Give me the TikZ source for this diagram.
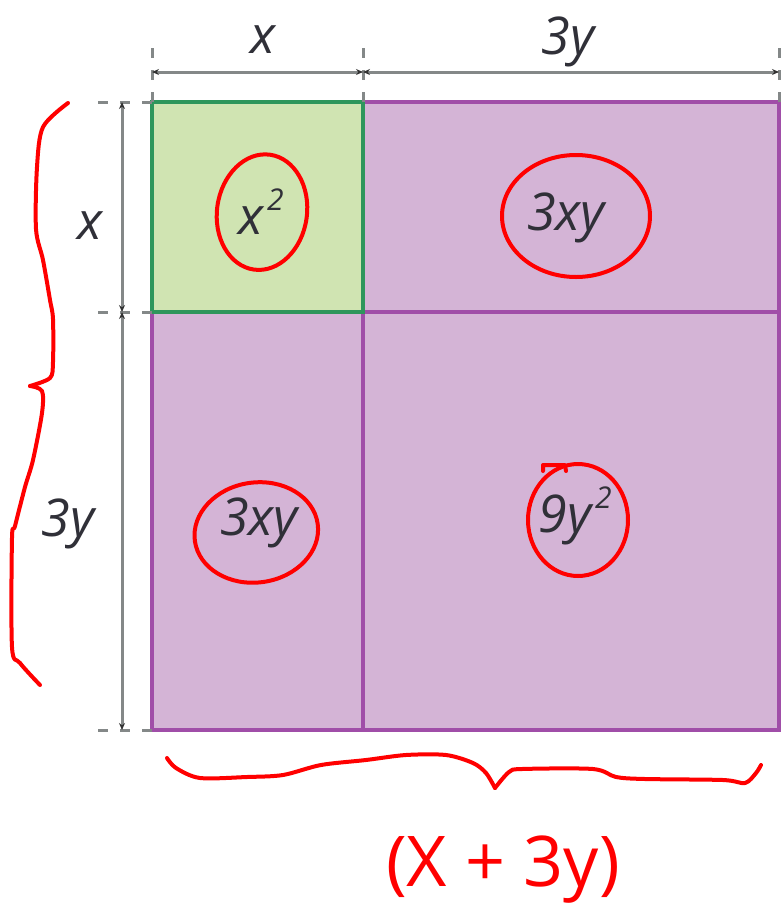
\documentclass[tikz,border=0pt]{standalone}
\usepackage{fontspec}
\setmainfont{Open Sans}
\usetikzlibrary{arrows.meta, positioning, calc}
\definecolor{cellgreen}{RGB}{208,228,178}
\definecolor{edgegreen}{RGB}{46,150,92}
\definecolor{cellpurple}{RGB}{212,180,214}
\definecolor{edgepurple}{RGB}{160,78,168}
\definecolor{dimgray}{RGB}{132,136,136}
\definecolor{inkred}{RGB}{255,0,0}
\definecolor{termgray}{RGB}{48,48,56}
\newcommand{\sqmark}{\kern4pt\raisebox{24pt}{\fontsize{30}{32}\selectfont 2}}
\tikzset{
  term/.style={
    font=\fontsize{52}{56}\selectfont\itshape,
    text=termgray,
    inner sep=0pt
  },
  handtext/.style={
    font=\fontsize{70}{74}\selectfont,
    text=inkred,
    inner sep=0pt
  },
  greencell/.style={
    fill=cellgreen,
    draw=edgegreen,
    line width=3.5pt
  },
  purplecell/.style={
    fill=cellpurple,
    draw=edgepurple,
    line width=3.5pt
  },
  dimline/.style={
    draw=dimgray,
    line width=3pt,
    {Stealth[length=7pt,width=6pt,black!80]}-{Stealth[length=7pt,width=6pt,black!80]}
  },
  extline/.style={
    draw=dimgray,
    line width=3pt,
    dash pattern=on 10pt off 12pt
  },
  ink/.style={
    draw=inkred,
    line width=4pt,
    line cap=round,
    line join=round
  }
}

\begin{document}
\begin{tikzpicture}[x=1pt, y=-1pt]
  \useasboundingbox (0,0) rectangle (781,919);

  % corners of the square
  \coordinate (tl) at (152,102);
  \coordinate (tm) at (363,102);
  \coordinate (tr) at (779,102);
  \coordinate (ml) at (152,312);
  \coordinate (mm) at (363,312);
  \coordinate (mr) at (779,312);
  \coordinate (bl) at (152,730);
  \coordinate (bm) at (363,730);
  \coordinate (br) at (779,730);

  \draw[purplecell] (tm) rectangle (mr);
  \draw[purplecell] (ml) rectangle (bm);
  \draw[purplecell] (mm) rectangle (br);
  \draw[greencell] (tl) rectangle (mm);

  % dimension lines
  \foreach \c in {tl,tm,tr}
    \draw[extline] ($(\c)+(0,-54)$) -- (\c);
  \foreach \c in {tl,ml,bl}
    \draw[extline] ($(\c)+(-54,0)$) -- (\c);
  \coordinate (dtl) at (152,72);
  \coordinate (dtm) at (363,72);
  \coordinate (dtr) at (779,72);
  \coordinate (dlt) at (122,102);
  \coordinate (dlm) at (122,312);
  \coordinate (dlb) at (122,730);
  \draw[dimline] (dtl) -- (dtm);
  \draw[dimline] (dtm) -- (dtr);
  \draw[dimline] (dlt) -- (dlm);
  \draw[dimline] (dlm) -- (dlb);

  \node[term] (topx) at (263,40) {x};
  \node[term] (top3y) at (568,42) {3y};
  \node[term] (leftx) at (90,226) {x};
  \node[term] (left3y) at (68,524) {3y};

  % cell terms
  \node[term] (xsq) at (261,212) {x\sqmark};
  \node[term] (xytop) at (566,218) {3xy};
  \node[term] (xyleft) at (259,523) {3xy};
  \node[term] (ysq) at (575,516) {9y\sqmark};

  % red marks
  \draw[ink, rotate around={-8:(xsq)}] ($(xsq)+(1,0)$) ellipse [x radius=45, y radius=58];
  \draw[ink] ($(xytop)+(10,-2)$) ellipse [x radius=74, y radius=61];
  \draw[ink, rotate around={8:(xyleft)}] ($(xyleft)+(-4,9)$) ellipse [x radius=62, y radius=50];
  \draw[ink] ($(ysq)+(3,4)$) ellipse [x radius=50, y radius=56];
  \draw[ink] (543,471) -- (543,465) -- (565,465) -- (566,471);

  \draw[ink] plot[smooth, tension=0.5] coordinates {(68,103) (43,127) (37,167) (36,229) (43,260) (50,300) (53,319) (53,362) (50,378) (30,386)};
  \draw[ink] plot[smooth, tension=0.5] coordinates {(30,386) (42,391) (42,413) (33,460) (25,487) (15,526) (12,538) (12,647) (20,663) (40,685)};

  \draw[ink] plot[smooth, tension=0.5] coordinates {(167,758) (176,768) (200,778) (247,777) (283,775) (321,765) (366,760) (406,755) (446,755) (473,763) (486,773) (495,788)};
  \draw[ink] plot[smooth, tension=0.5] coordinates {(495,788) (509,772) (522,769) (593,769) (616,777) (645,779) (723,780) (745,783) (756,773) (761,765)};

  \node[handtext] (sum) at (503,870) {(X + 3y)};
\end{tikzpicture}
\end{document}
